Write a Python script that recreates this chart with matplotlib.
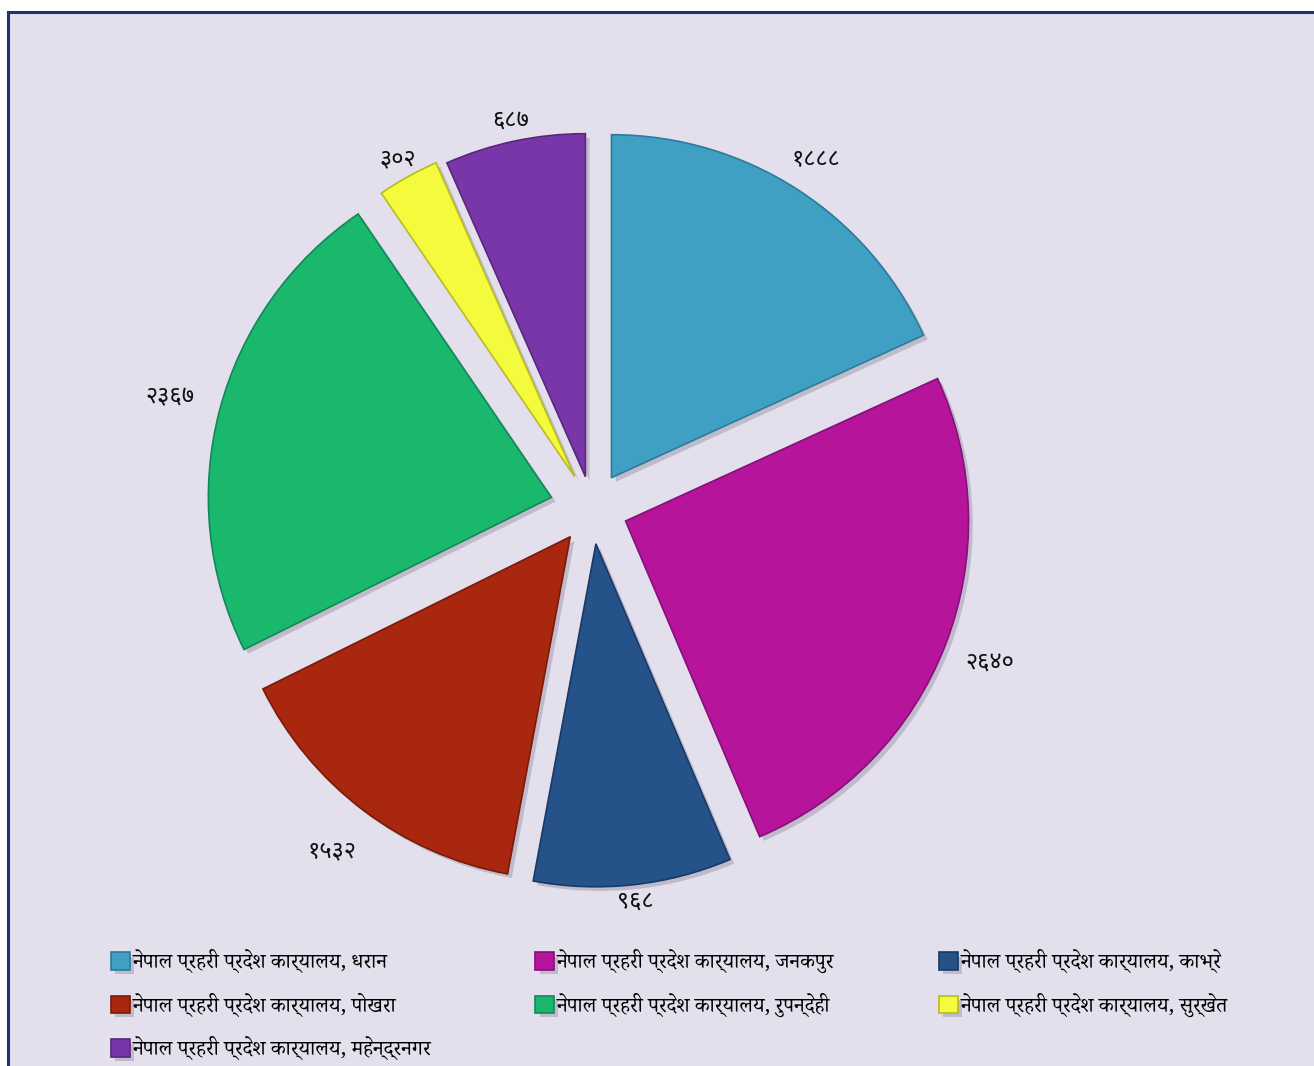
import matplotlib
matplotlib.use("Agg")
import matplotlib.pyplot as plt
import matplotlib.patheffects as pe
from matplotlib.patches import Rectangle
import numpy as np

# data
offices = [
    "नेपाल प्रहरी प्रदेश कार्यालय, धरान",
    "नेपाल प्रहरी प्रदेश कार्यालय, जनकपुर",
    "नेपाल प्रहरी प्रदेश कार्यालय, काभ्रे",
    "नेपाल प्रहरी प्रदेश कार्यालय, पोखरा",
    "नेपाल प्रहरी प्रदेश कार्यालय, रुपन्देही",
    "नेपाल प्रहरी प्रदेश कार्यालय, सुर्खेत",
    "नेपाल प्रहरी प्रदेश कार्यालय, महेन्द्रनगर",
]
counts = [1888, 2640, 968, 1532, 2367, 302, 687]
count_labels = ["१८८८", "२६४०", "९६८", "१५३२", "२३६७", "३०२", "६८७"]

colors = ["#3FA0C3", "#B5149B", "#26528A", "#A9260F", "#1AB86D", "#F4FA3C", "#7936A8"]
edges = ["#2B7C99", "#86107A", "#173A66", "#7A1A0A", "#11885A", "#B8BC20", "#59267E"]
label_dist = [1.10, 1.14, 1.05, 1.15, 1.15, 1.06, 1.06]

W, H = 1314, 1066
bg = "#E4DFEC"
serif_dev = ["Noto Serif Devanagari", "FreeSerif", "DejaVu Sans"]
sans_dev = ["Noto Sans Devanagari", "FreeSans", "DejaVu Sans"]

fig = plt.figure(figsize=(W / 100, H / 100), dpi=100)
fig.patch.set_facecolor("white")
ax = fig.add_axes([0, 0, 1, 1])
ax.set_xlim(0, W)
ax.set_ylim(0, H)
ax.axis("off")

# chart area background and border (cut off at right/bottom)
ax.add_patch(Rectangle((8, -10), W + 20, H - 12 + 10, facecolor=bg,
                       edgecolor="#1B3570", linewidth=2.2, zorder=0))

R = 343
gap = 36  # explode distance in pixels
wedges, _ = ax.pie(counts, colors=colors, startangle=90, counterclock=False,
                   radius=R, center=(592, H - 508),
                   explode=[gap, gap, gap, gap, gap + 6, gap, gap - 4],
                   wedgeprops=dict(linewidth=1.2), frame=True)
for w, ec in zip(wedges, edges):
    w.set_edgecolor(ec)
    w.set_path_effects([pe.SimplePatchShadow(offset=(3, -3), alpha=0.25, shadow_rgbFace="#55506a"),
                        pe.Normal()])

for w, lab, f in zip(wedges, count_labels, label_dist):
    th = np.deg2rad((w.theta1 + w.theta2) / 2)
    cx, cy = w.center
    ax.text(cx + f * R * np.cos(th), cy + f * R * np.sin(th), lab,
            ha="center", va="center", fontsize=17, family=sans_dev, color="#111111")

ax.set_xlim(0, W)
ax.set_ylim(0, H)
ax.set_aspect("auto")

# legend, filled row by row like the original
order = [0, 3, 6, 1, 4, 2, 5]
leg = ax.legend([wedges[i] for i in order], [offices[i] for i in order],
                loc="lower left", bbox_to_anchor=(92 / W, -13 / H),
                ncol=3, frameon=False, prop={"family": serif_dev, "size": 15},
                handlelength=0.9, handleheight=0.9, handletextpad=0.15,
                columnspacing=5.0, labelspacing=0.93)

fig.savefig("out.png", dpi=100, facecolor=fig.get_facecolor())
